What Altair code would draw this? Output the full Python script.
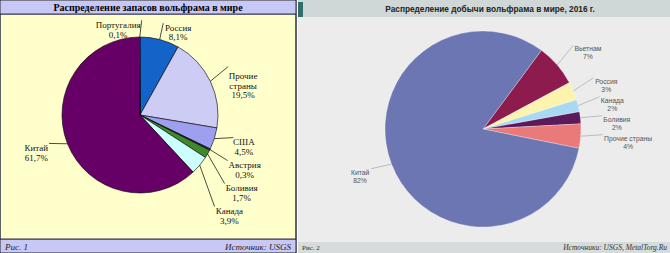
import math
import altair as alt
import pandas as pd

# ---------------- data ----------------
left_names = ["Россия", "Прочие страны", "США", "Австрия", "Боливия", "Канада", "Китай", "Португалия"]
left_labels = ["Россия", "Прочие\nстраны", "США", "Австрия", "Боливия", "Канада", "Китай", "Португалия"]
left_values = [8.1, 19.5, 4.5, 0.3, 1.7, 3.9, 61.7, 0.1]
left_colors = ["#1463c8", "#ccccf4", "#9f9ff0", "#203050", "#3f8a2a", "#ccffff", "#660066", "#ffffff"]

right_names = ["Вьетнам", "Россия", "Канада", "Боливия", "Прочие страны", "Китай"]
right_values = [7, 3, 2, 2, 4, 82]
right_colors = ["#8e1b4e", "#fbf3ae", "#a9d9f2", "#5c1a5c", "#ea7a7a", "#6b76b2"]

left_title = "Распределение запасов вольфрама в мире"
right_title = "Распределение добычи вольфрама в мире, 2016 г."


def fmt(v, dec):
    return (f"{v:.{dec}f}" if dec else f"{v:.0f}").replace(".", ",") + "%"


def layout(names, labels, values, dec, cx, cy, r, rx, ry, start, gap, lh, cw):
    total = sum(values)
    cum = 0.0
    rows = []
    for i, (n, lab, v) in enumerate(zip(names, labels, values)):
        mid = math.radians(start + 360.0 * (cum + v / 2) / total)
        cum += v
        s, c = math.sin(mid), math.cos(mid)
        text = lab + "\n" + fmt(v, dec)
        lines = text.split("\n")
        w = max(len(t) for t in lines) * cw
        h = len(lines) * lh
        side = 1 if s >= 0 else -1
        rows.append(dict(name=n, value=v, idx=i, text=text,
                         ax=cx + r * s, ay=cy - r * c,
                         px=cx + rx * s, py=cy - ry * c, w=w, h=h, side=side))
    for sd in (1, -1):
        grp = sorted([q for q in rows if q["side"] == sd], key=lambda q: q["py"])
        for a, b in zip(grp, grp[1:]):
            b["py"] = max(b["py"], a["py"] + (a["h"] + b["h"]) / 2 + gap)
    for q in rows:
        q["lx"] = q["px"] + q["side"] * q["w"] / 2
        q["ex"] = q["px"] - q["side"] * 2
        q["ey"] = q["py"] - q["h"] / 2 + lh / 2
    return pd.DataFrame(rows)


# pie geometry
LCX, LCY, LR = 140, 115, 78
RCX, RCY, RR = 483, 129, 98
RSTART = 36.6

ldf = layout(left_names, left_labels, left_values, 1, LCX, LCY, LR, 100, 90, 0, 4, 9.5, 4.3)
rdf = layout(right_names, right_names, right_values, 0, RCX, RCY, RR, 122, 122, RSTART, 3, 8, 3.6)

one = pd.DataFrame({"k": [0]})


def box(x, y, w, h, fill, stroke=None, sw=0):
    kw = dict(fill=fill)
    if stroke:
        kw.update(stroke=stroke, strokeWidth=sw)
    else:
        kw.update(strokeWidth=0)
    return alt.Chart(one).mark_rect(**kw).encode(
        x=alt.value(x), x2=alt.value(x + w), y=alt.value(y), y2=alt.value(y + h))


def label(txt, x, y, size, font, color="#000", align="left", weight="normal", style="normal"):
    return alt.Chart(pd.DataFrame({"t": [txt]})).mark_text(
        font=font, fontSize=size, color=color, align=align, baseline="middle",
        fontWeight=weight, fontStyle=style).encode(
        text="t:N", x=alt.value(x), y=alt.value(y))


SERIF = "Liberation Serif"
SANS = "Liberation Sans"

# ---------------- decorations ----------------
deco = [
    # left panel
    box(0, 0, 296, 253, "#ffffcc", "#2e2e4a", 1.5),
    box(0.75, 0.75, 294.5, 13, "#c8c8f6"),
    box(0, 13.5, 296, 1.2, "#2e2e4a"),
    box(0.75, 239.5, 294.5, 12.75, "#c8c8f6"),
    box(0, 238.5, 296, 1.2, "#2e2e4a"),
    # right panel
    box(298, 0, 372, 253, "#ececec"),
    box(298, 0, 372, 17, "#d0d7d7"),
    box(298, 2, 5, 15, "#2f6e6a"),
    box(298, 242, 372, 11, "#d6dbdb"),
]

texts = [
    label(left_title, 148, 7.5, 10, SERIF, weight="bold", align="center"),
    label("Рис. 1", 5, 246.5, 9, SERIF, color="#222", style="italic"),
    label("Источник: USGS", 291, 246.5, 9, SERIF, color="#222", align="right", style="italic"),
    label(right_title, 490, 9.5, 8.3, SANS, color="#222", weight="bold", align="center"),
    label("Рис. 2", 302, 248, 7, SERIF, color="#333"),
    label("Источники: USGS, MetalTorg.Ru", 667, 248, 7.5, SERIF, color="#333", align="right", style="italic"),
]

# ---------------- pies ----------------
lpie = alt.Chart(ldf).mark_arc(outerRadius=LR, stroke="#000", strokeWidth=0.6).encode(
    theta=alt.Theta("value:Q", stack=True, scale=alt.Scale(range=[0, 2 * math.pi])),
    order=alt.Order("idx:Q"),
    color=alt.Color("name:N", scale=alt.Scale(domain=left_names, range=left_colors), legend=None),
    x=alt.value(LCX), y=alt.value(LCY),
)

rs = math.radians(RSTART)
rpie = alt.Chart(rdf).mark_arc(outerRadius=RR, stroke="#ffffff", strokeWidth=0.3).encode(
    theta=alt.Theta("value:Q", stack=True, scale=alt.Scale(range=[rs, rs + 2 * math.pi])),
    order=alt.Order("idx:Q"),
    color=alt.Color("name:N", scale=alt.Scale(domain=right_names, range=right_colors), legend=None),
    x=alt.value(RCX), y=alt.value(RCY),
)

llines = alt.Chart(ldf).mark_rule(color="#000", strokeWidth=0.7).encode(
    x=alt.X("ax:Q", scale=None), y=alt.Y("ay:Q", scale=None),
    x2="ex:Q", y2="ey:Q")
ltext = alt.Chart(ldf).mark_text(font=SERIF, fontSize=9, lineHeight=9.5, lineBreak="\n",
                                 align="center", baseline="middle", color="#111").encode(
    x=alt.X("lx:Q", scale=None), y=alt.Y("py:Q", scale=None), text="text:N")

rlines = alt.Chart(rdf).mark_rule(color="#b0b0b0", strokeWidth=0.8).encode(
    x=alt.X("ax:Q", scale=None), y=alt.Y("ay:Q", scale=None),
    x2="ex:Q", y2="ey:Q")
rtext = alt.Chart(rdf).mark_text(font=SANS, fontSize=6.8, lineHeight=8, lineBreak="\n",
                                 align="center", baseline="middle", color="#555").encode(
    x=alt.X("lx:Q", scale=None), y=alt.Y("py:Q", scale=None), text="text:N")

chart = alt.layer(*deco, lpie, rpie, llines, rlines, ltext, rtext, *texts).resolve_scale(
    theta="independent", color="independent"
).properties(
    width=670, height=253, padding=0, autosize=alt.AutoSizeParams(type="none"),
    background="#ffffff"
).configure_view(stroke=None)

chart.save("out.html", embed_options={"renderer": "svg", "actions": False})
